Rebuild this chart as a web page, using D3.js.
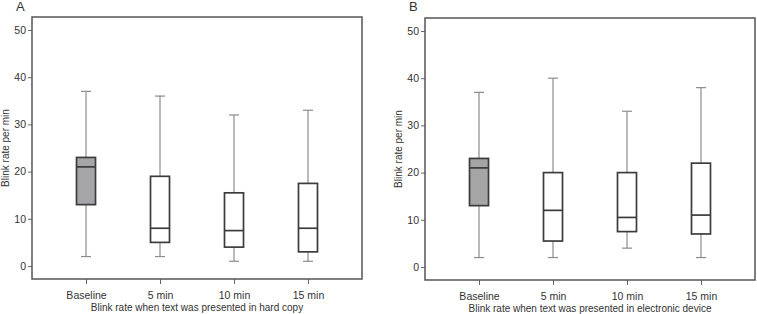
<!DOCTYPE html>
<html>
<head>
<meta charset="utf-8">
<script src="https://cdn.jsdelivr.net/npm/d3@7"></script>
<style>
  body { margin: 0; background: #fff; }
  text { font-family: "Liberation Sans", Arial, sans-serif; fill: #333; }
</style>
</head>
<body>
<svg id="chart" width="757" height="314"></svg>
<script>
// Categorias e ticks
const categories = ['Baseline', '5 min', '10 min', '15 min'];
const yTicks = [0, 10, 20, 30, 40, 50];

// Painel A - cópia impressa: [min, q1, mediana, q3, max]
const hardCopyMin = [2, 2, 1, 1];
const hardCopyQ1 = [13, 5, 4, 3];
const hardCopyMedian = [21, 8, 7.5, 8];
const hardCopyQ3 = [23, 19, 15.5, 17.5];
const hardCopyMax = [37, 36, 32, 33];

// Painel B - dispositivo eletrônico
const deviceMin = [2, 2, 4, 2];
const deviceQ1 = [13, 5.5, 7.5, 7];
const deviceMedian = [21, 12, 10.5, 11];
const deviceQ3 = [23, 20, 20, 22];
const deviceMax = [37, 40, 33, 38];

const panels = [
  { letter: 'A', left: 32, top: 17, title: 'Blink rate when text was presented in hard copy',
    min: hardCopyMin, q1: hardCopyQ1, med: hardCopyMedian, q3: hardCopyQ3, max: hardCopyMax },
  { letter: 'B', left: 425, top: 18, title: 'Blink rate when text was presented in electronic device',
    min: deviceMin, q1: deviceQ1, med: deviceMedian, q3: deviceQ3, max: deviceMax }
];

const svg = d3.select('#chart');
const width = 330;
const height = 262;
const boxW = 19;
const capW = 10;

panels.forEach(p => {
  const g = svg.append('g').attr('transform', `translate(${p.left},${p.top})`);

  const x = d3.scalePoint().domain(categories).range([0, width]).padding(0.73);
  const y = d3.scaleLinear().domain([0, 50]).range([249, 13]);

  const rows = categories.map((c, i) => ({
    cat: c, min: p.min[i], q1: p.q1[i], med: p.med[i], q3: p.q3[i], max: p.max[i]
  }));

  // Eixos
  const yAxis = g.append('g')
    .call(d3.axisLeft(y).tickValues(yTicks).tickSize(4).tickPadding(2));
  yAxis.select('.domain').remove();
  yAxis.selectAll('line').attr('stroke', '#666');
  yAxis.selectAll('text').style('font-size', '10.5px').attr('fill', '#333');

  const xAxis = g.append('g')
    .attr('transform', `translate(0,${height})`)
    .call(d3.axisBottom(x).tickSize(5).tickPadding(8));
  xAxis.select('.domain').remove();
  xAxis.selectAll('line').attr('stroke', '#666');
  xAxis.selectAll('text').style('font-size', '10.5px').attr('fill', '#333');

  // Moldura
  g.append('rect')
    .attr('width', width)
    .attr('height', height)
    .attr('fill', 'none')
    .attr('stroke', '#555')
    .attr('stroke-width', 1.5);

  // Bigodes
  g.selectAll('.whisker')
    .data(rows)
    .enter()
    .append('line')
    .attr('x1', d => x(d.cat))
    .attr('x2', d => x(d.cat))
    .attr('y1', d => y(d.max))
    .attr('y2', d => y(d.min))
    .attr('stroke', '#8c8c8c')
    .attr('stroke-width', 1.2);

  ['max', 'min'].forEach(k => {
    g.selectAll('.cap-' + k)
      .data(rows)
      .enter()
      .append('line')
      .attr('x1', d => x(d.cat) - capW / 2)
      .attr('x2', d => x(d.cat) + capW / 2)
      .attr('y1', d => y(d[k]))
      .attr('y2', d => y(d[k]))
      .attr('stroke', '#8c8c8c')
      .attr('stroke-width', 1.2);
  });

  // Caixas
  g.selectAll('.box')
    .data(rows)
    .enter()
    .append('rect')
    .attr('x', d => x(d.cat) - boxW / 2)
    .attr('y', d => y(d.q3))
    .attr('width', boxW)
    .attr('height', d => y(d.q1) - y(d.q3))
    .attr('fill', (d, i) => i === 0 ? '#a5a5a8' : '#fff')
    .attr('stroke', '#3c3c3c')
    .attr('stroke-width', 1.7);

  // Medianas
  g.selectAll('.median')
    .data(rows)
    .enter()
    .append('line')
    .attr('x1', d => x(d.cat) - boxW / 2)
    .attr('x2', d => x(d.cat) + boxW / 2)
    .attr('y1', d => y(d.med))
    .attr('y2', d => y(d.med))
    .attr('stroke', '#3c3c3c')
    .attr('stroke-width', 1.7);

  // Títulos
  g.append('text')
    .attr('x', width / 2)
    .attr('y', height + 32)
    .style('font-size', '10px')
    .style('text-anchor', 'middle')
    .text(p.title);

  g.append('text')
    .attr('transform', `translate(${-23},${y(25)}) rotate(-90)`)
    .style('font-size', '10px')
    .style('text-anchor', 'middle')
    .text('Blink rate per min');

  svg.append('text')
    .attr('x', p.left - 16)
    .attr('y', 11)
    .style('font-size', '13px')
    .text(p.letter);
});
</script>
</body>
</html>
